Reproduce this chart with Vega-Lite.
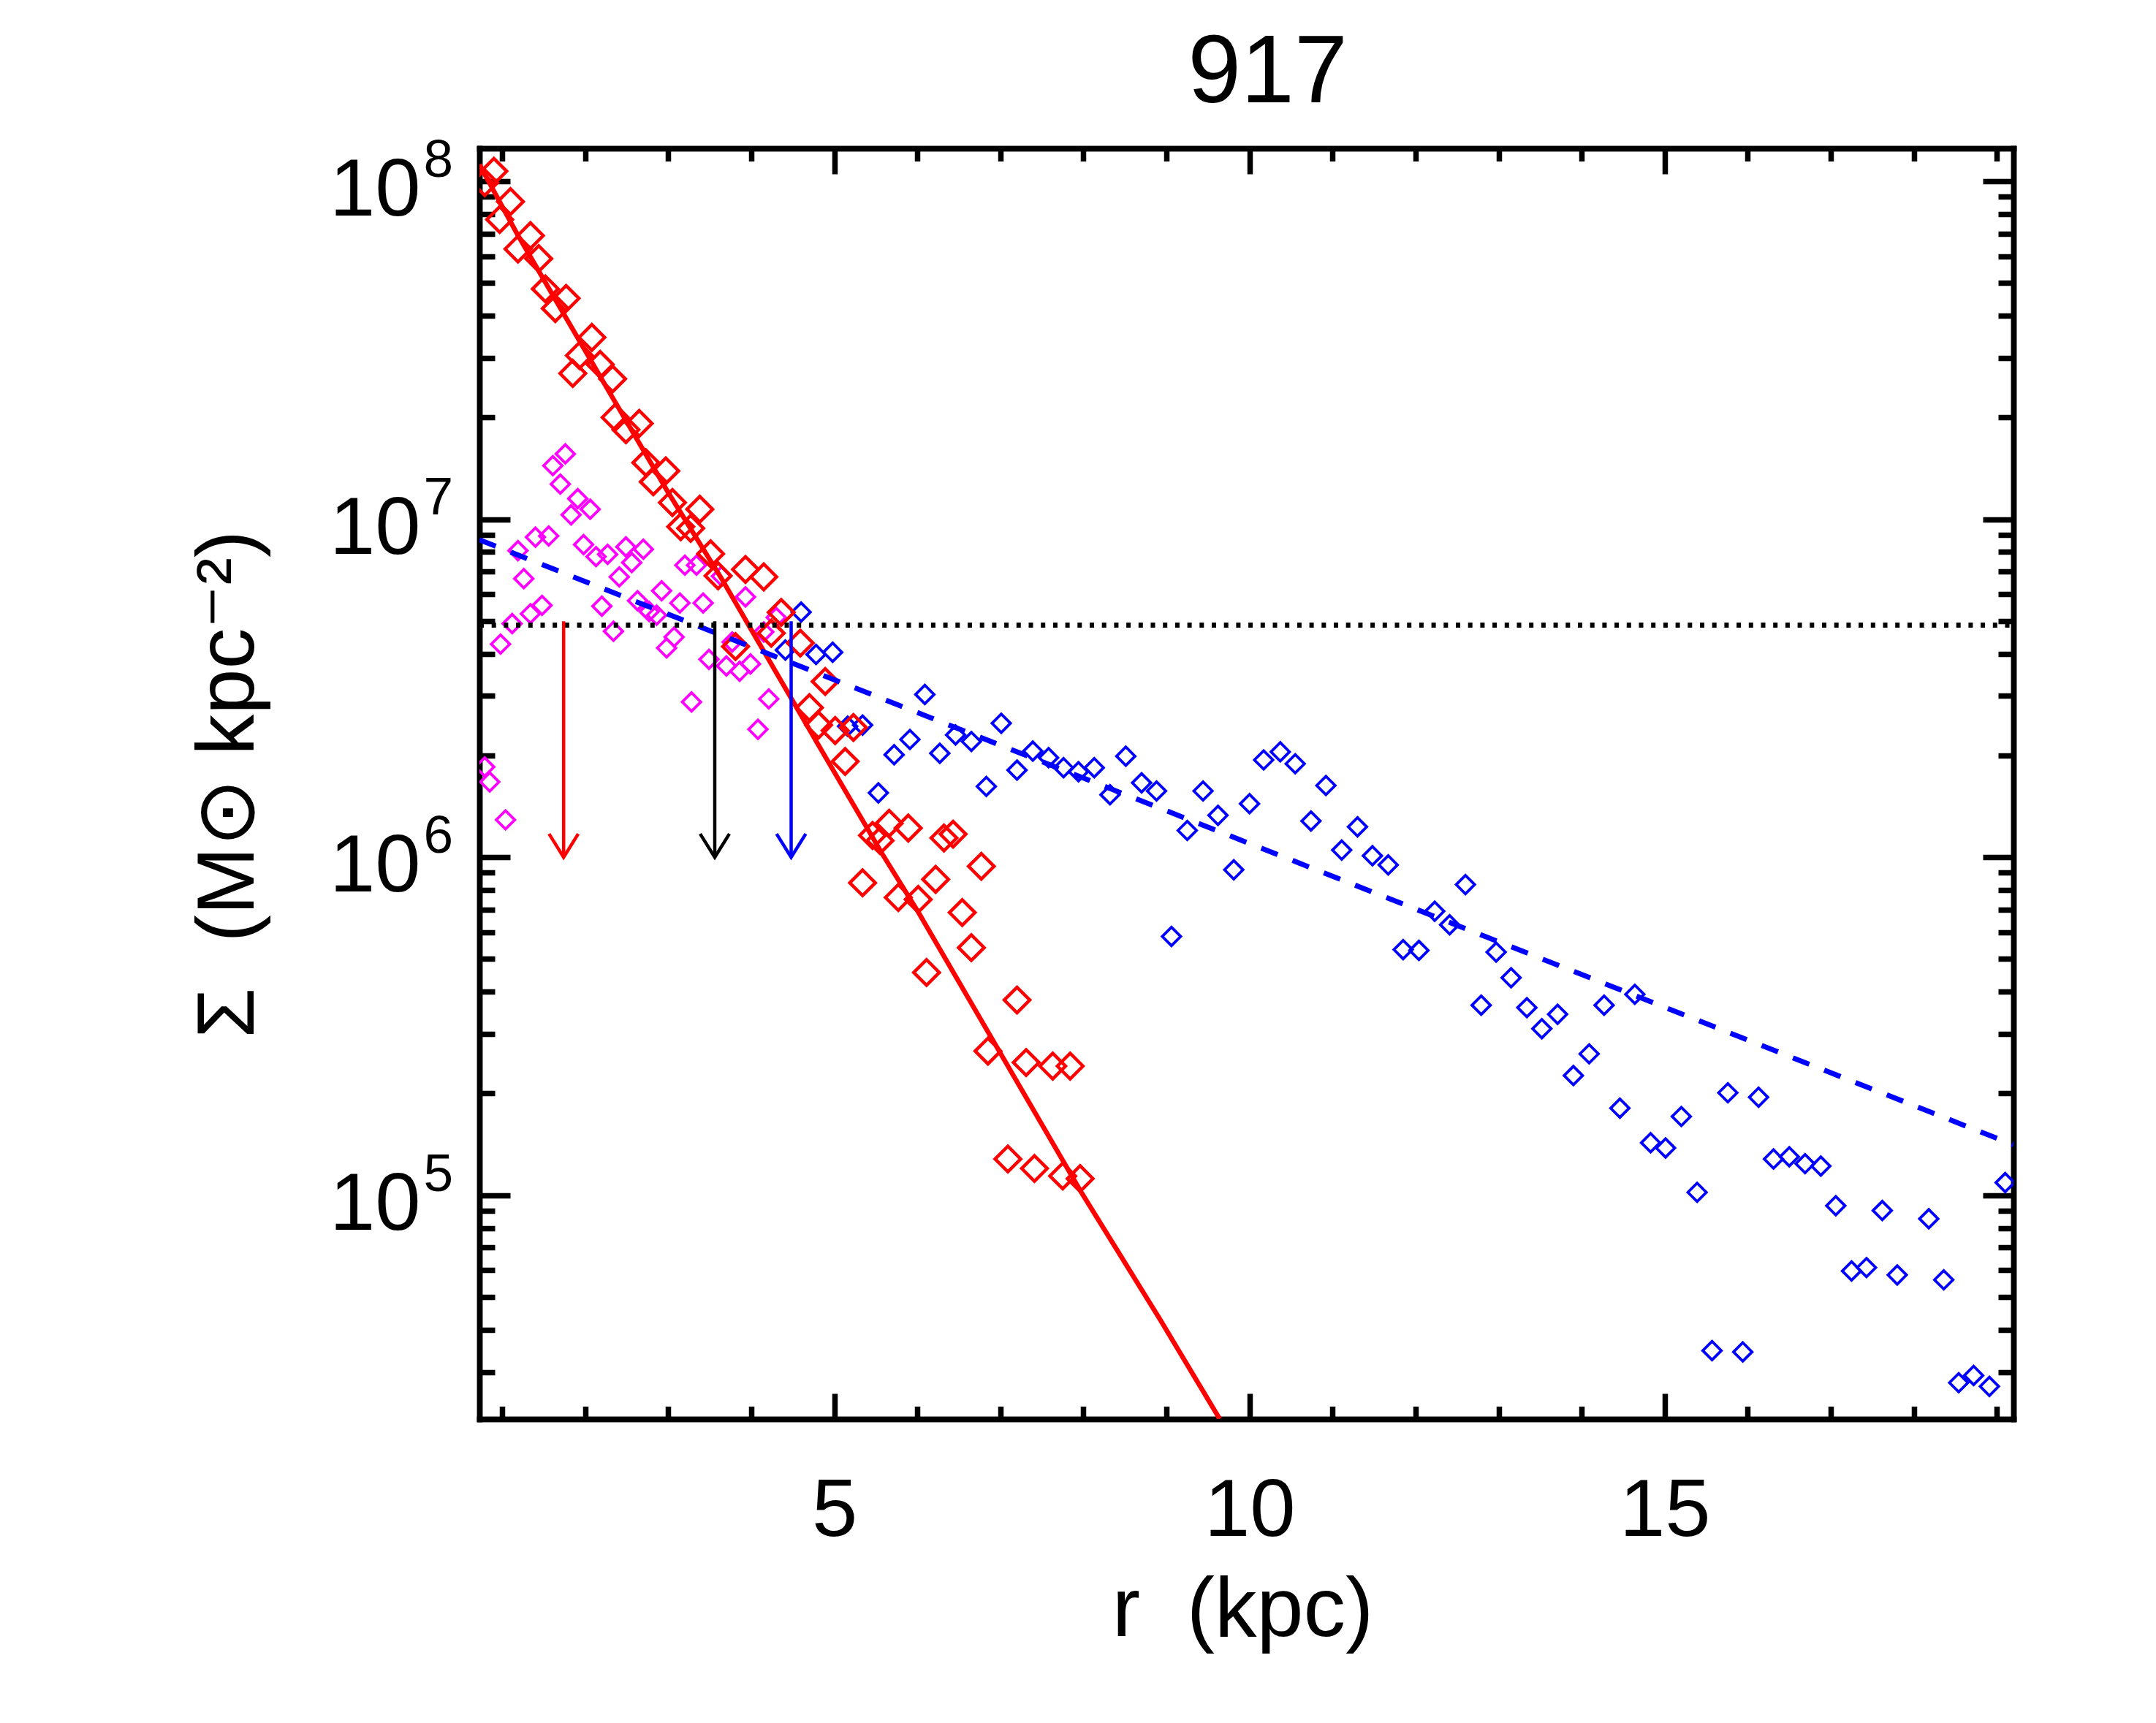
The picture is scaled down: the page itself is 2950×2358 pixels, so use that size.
{
  "$schema": "https://vega.github.io/schema/vega-lite/v6.json",
  "description": "Surface density profile of galaxy 917 with bulge and disk fits",
  "width": 2099,
  "height": 1739,
  "autosize": {"type": "none"},
  "padding": {"left": 656, "top": 203, "right": 195, "bottom": 416},
  "background": "white",
  "title": {
    "text": "917",
    "font": "Liberation Sans",
    "fontSize": 131,
    "fontWeight": "normal",
    "color": "black",
    "anchor": "middle",
    "frame": "group",
    "baseline": "alphabetic",
    "dx": 29,
    "dy": 140,
    "offset": 52
  },
  "datasets": {
    "bulge": [
      {"r": 0.79, "S": 99000000}, {"r": 0.90, "S": 107000000}, {"r": 0.97, "S": 77000000},
      {"r": 1.10, "S": 87000000}, {"r": 1.19, "S": 63000000}, {"r": 1.34, "S": 69000000},
      {"r": 1.44, "S": 59000000}, {"r": 1.52, "S": 48000000}, {"r": 1.64, "S": 42000000},
      {"r": 1.77, "S": 45000000}, {"r": 1.85, "S": 27000000}, {"r": 1.93, "S": 30500000},
      {"r": 2.08, "S": 34500000}, {"r": 2.18, "S": 28700000}, {"r": 2.33, "S": 26000000},
      {"r": 2.36, "S": 20000000}, {"r": 2.49, "S": 18400000}, {"r": 2.65, "S": 19200000},
      {"r": 2.73, "S": 14700000}, {"r": 2.82, "S": 12900000}, {"r": 2.97, "S": 13900000},
      {"r": 3.05, "S": 11200000}, {"r": 3.15, "S": 9500000}, {"r": 3.27, "S": 9400000},
      {"r": 3.38, "S": 10700000}, {"r": 3.51, "S": 7900000}, {"r": 3.60, "S": 6800000},
      {"r": 3.81, "S": 4200000}, {"r": 3.93, "S": 7100000}, {"r": 4.15, "S": 6750000},
      {"r": 4.24, "S": 4600000}, {"r": 4.36, "S": 5300000}, {"r": 4.59, "S": 4300000},
      {"r": 4.70, "S": 2770000}, {"r": 4.81, "S": 2460000}, {"r": 4.89, "S": 3310000},
      {"r": 5.01, "S": 2370000}, {"r": 5.13, "S": 1920000}, {"r": 5.23, "S": 2420000},
      {"r": 5.34, "S": 840000}, {"r": 5.46, "S": 1160000}, {"r": 5.55, "S": 1120000},
      {"r": 5.66, "S": 1260000}, {"r": 5.77, "S": 760000}, {"r": 5.89, "S": 1220000},
      {"r": 6.01, "S": 750000}, {"r": 6.11, "S": 456000}, {"r": 6.22, "S": 860000},
      {"r": 6.32, "S": 1140000}, {"r": 6.43, "S": 1170000}, {"r": 6.54, "S": 686000},
      {"r": 6.65, "S": 540000}, {"r": 6.77, "S": 940000}, {"r": 6.85, "S": 267000},
      {"r": 7.09, "S": 128000}, {"r": 7.20, "S": 378000}, {"r": 7.31, "S": 247000},
      {"r": 7.41, "S": 120000}, {"r": 7.63, "S": 241000}, {"r": 7.75, "S": 114000},
      {"r": 7.84, "S": 241000}, {"r": 7.96, "S": 112000}
    ],
    "inner": [
      {"r": 0.79, "S": 1850000}, {"r": 0.85, "S": 1670000}, {"r": 0.98, "S": 4270000},
      {"r": 1.04, "S": 1290000}, {"r": 1.12, "S": 4910000}, {"r": 1.19, "S": 8070000},
      {"r": 1.26, "S": 6670000}, {"r": 1.34, "S": 5250000}, {"r": 1.40, "S": 8850000},
      {"r": 1.48, "S": 5560000}, {"r": 1.56, "S": 8920000}, {"r": 1.61, "S": 14400000},
      {"r": 1.70, "S": 12700000}, {"r": 1.76, "S": 15600000}, {"r": 1.83, "S": 10300000},
      {"r": 1.91, "S": 11500000}, {"r": 1.98, "S": 8410000}, {"r": 2.06, "S": 10700000},
      {"r": 2.13, "S": 7750000}, {"r": 2.20, "S": 5530000}, {"r": 2.27, "S": 7870000},
      {"r": 2.34, "S": 4660000}, {"r": 2.41, "S": 6750000}, {"r": 2.49, "S": 8280000},
      {"r": 2.56, "S": 7440000}, {"r": 2.63, "S": 5740000}, {"r": 2.70, "S": 8150000},
      {"r": 2.77, "S": 5330000}, {"r": 2.86, "S": 5200000}, {"r": 2.92, "S": 6140000},
      {"r": 2.98, "S": 4160000}, {"r": 3.07, "S": 4480000}, {"r": 3.14, "S": 5650000},
      {"r": 3.20, "S": 7310000}, {"r": 3.28, "S": 2880000}, {"r": 3.34, "S": 7310000},
      {"r": 3.42, "S": 5650000}, {"r": 3.49, "S": 3850000}, {"r": 3.64, "S": 6780000},
      {"r": 3.70, "S": 3680000}, {"r": 3.77, "S": 4330000}, {"r": 3.86, "S": 3550000},
      {"r": 3.93, "S": 5890000}, {"r": 3.99, "S": 3730000}, {"r": 4.08, "S": 2390000},
      {"r": 4.15, "S": 4640000}, {"r": 4.21, "S": 2940000}, {"r": 4.30, "S": 5120000}
    ],
    "disk": [
      {"r": 4.41, "S": 4100000}, {"r": 4.60, "S": 5310000}, {"r": 4.78, "S": 3980000},
      {"r": 4.98, "S": 4040000}, {"r": 5.16, "S": 2440000}, {"r": 5.34, "S": 2460000},
      {"r": 5.53, "S": 1550000}, {"r": 5.72, "S": 2010000}, {"r": 5.91, "S": 2230000},
      {"r": 6.09, "S": 3030000}, {"r": 6.27, "S": 2030000}, {"r": 6.46, "S": 2300000},
      {"r": 6.65, "S": 2200000}, {"r": 6.83, "S": 1620000}, {"r": 7.01, "S": 2490000},
      {"r": 7.20, "S": 1810000}, {"r": 7.39, "S": 2060000}, {"r": 7.58, "S": 1970000},
      {"r": 7.76, "S": 1840000}, {"r": 7.94, "S": 1790000}, {"r": 8.13, "S": 1840000},
      {"r": 8.32, "S": 1530000}, {"r": 8.51, "S": 1990000}, {"r": 8.70, "S": 1660000},
      {"r": 8.88, "S": 1570000}, {"r": 9.06, "S": 583000}, {"r": 9.25, "S": 1200000},
      {"r": 9.44, "S": 1570000}, {"r": 9.62, "S": 1330000}, {"r": 9.81, "S": 918000},
      {"r": 10.00, "S": 1440000}, {"r": 10.17, "S": 1940000}, {"r": 10.37, "S": 2050000},
      {"r": 10.55, "S": 1890000}, {"r": 10.74, "S": 1280000}, {"r": 10.92, "S": 1630000},
      {"r": 11.11, "S": 1050000}, {"r": 11.30, "S": 1230000}, {"r": 11.48, "S": 1010000},
      {"r": 11.67, "S": 949000}, {"r": 11.85, "S": 533000}, {"r": 12.04, "S": 530000},
      {"r": 12.23, "S": 692000}, {"r": 12.41, "S": 631000}, {"r": 12.60, "S": 830000},
      {"r": 12.79, "S": 365000}, {"r": 12.97, "S": 524000}, {"r": 13.15, "S": 440000},
      {"r": 13.34, "S": 359000}, {"r": 13.52, "S": 311000}, {"r": 13.71, "S": 343000},
      {"r": 13.90, "S": 226000}, {"r": 14.09, "S": 262000}, {"r": 14.27, "S": 365000},
      {"r": 14.46, "S": 181000}, {"r": 14.64, "S": 393000}, {"r": 14.83, "S": 143000},
      {"r": 15.01, "S": 138000}, {"r": 15.20, "S": 171000}, {"r": 15.39, "S": 102000},
      {"r": 15.57, "S": 34700}, {"r": 15.76, "S": 201000}, {"r": 15.94, "S": 34400},
      {"r": 16.13, "S": 195000}, {"r": 16.31, "S": 128000}, {"r": 16.50, "S": 130000},
      {"r": 16.69, "S": 124000}, {"r": 16.88, "S": 122000}, {"r": 17.06, "S": 93100},
      {"r": 17.25, "S": 59700}, {"r": 17.43, "S": 61100}, {"r": 17.62, "S": 90100},
      {"r": 17.80, "S": 58100}, {"r": 18.18, "S": 85200}, {"r": 18.36, "S": 56200},
      {"r": 18.54, "S": 27900}, {"r": 18.72, "S": 29300}, {"r": 18.91, "S": 27200},
      {"r": 19.10, "S": 109000}
    ],
    "bulgeFit": [
      {"r": 0.726, "S": 112000000}, {"r": 1.18, "S": 69800000}, {"r": 2.28, "S": 24000000},
      {"r": 2.99, "S": 12100000}, {"r": 3.65, "S": 6620000}, {"r": 4.76, "S": 2250000},
      {"r": 5.58, "S": 1020000}, {"r": 6.02, "S": 682000}, {"r": 7.98, "S": 101500},
      {"r": 8.92, "S": 43000}, {"r": 9.64, "S": 21800}
    ],
    "diskFit": [
      {"r": 0.726, "S": 8690000}, {"r": 19.2, "S": 141000}
    ],
    "level": [
      {"r": 0.726, "S": 4860000}, {"r": 19.2, "S": 4860000}
    ],
    "arrows": [
      {"r": 1.74, "top": 4990000, "bottom": 1000000, "kind": "bulge"},
      {"r": 3.56, "top": 4990000, "bottom": 1000000, "kind": "total"},
      {"r": 4.48, "top": 4990000, "bottom": 1000000, "kind": "disk"}
    ]
  },
  "config": {
    "view": {"stroke": null},
    "axis": {
      "grid": false,
      "domainColor": "black",
      "domainWidth": 7.5,
      "domainCap": "square",
      "tickColor": "black",
      "tickWidth": 7.5,
      "labelColor": "black",
      "titleColor": "black",
      "labelFont": "Liberation Sans",
      "titleFont": "Liberation Sans",
      "titleFontWeight": "normal",
      "labelBound": false,
      "labelFlush": false,
      "labelOverlap": false
    }
  },
  "resolve": {"axis": {"x": "independent", "y": "independent"}},
  "layer": [
    {
      "data": {"name": "inner"},
      "mark": {"type": "point", "shape": "diamond", "filled": false, "size": 640, "strokeWidth": 3.8, "color": "#ff00ff", "opacity": 1, "clip": true},
      "encoding": {
        "x": {
          "field": "r", "type": "quantitative",
          "scale": {"domain": [0.726, 19.2], "nice": false, "zero": false},
          "axis": {"orient": "bottom", "values": [1, 2, 3, 4, 6, 7, 8, 9, 11, 12, 13, 14, 16, 17, 18, 19], "tickSize": -17.5, "labels": false, "title": null}
        },
        "y": {
          "field": "S", "type": "quantitative",
          "scale": {"type": "log", "domain": [21777, 125060000], "nice": false},
          "axis": {"orient": "left", "values": [30000, 40000, 50000, 60000, 70000, 80000, 90000, 200000, 300000, 400000, 500000, 600000, 700000, 800000, 900000, 2000000, 3000000, 4000000, 5000000, 6000000, 7000000, 8000000, 9000000, 20000000, 30000000, 40000000, 50000000, 60000000, 70000000, 80000000, 90000000], "tickSize": -21, "labels": false, "title": null}
        }
      }
    },
    {
      "data": {"name": "disk"},
      "mark": {"type": "point", "shape": "diamond", "filled": false, "size": 640, "strokeWidth": 3.8, "color": "#0000ff", "opacity": 1, "clip": true},
      "encoding": {
        "x": {
          "field": "r", "type": "quantitative",
          "scale": {"domain": [0.726, 19.2], "nice": false, "zero": false},
          "axis": {"orient": "top", "values": [5, 10, 15], "tickSize": -35, "labels": false, "title": null}
        },
        "y": {
          "field": "S", "type": "quantitative",
          "scale": {"type": "log", "domain": [21777, 125060000], "nice": false},
          "axis": {"orient": "right", "values": [100000, 1000000, 10000000, 100000000], "tickSize": -42, "labels": false, "title": null}
        }
      }
    },
    {
      "data": {"name": "bulge"},
      "mark": {"type": "point", "shape": "diamond", "filled": false, "size": 1225, "strokeWidth": 4.5, "color": "#ff0000", "opacity": 1, "clip": true},
      "encoding": {
        "x": {
          "field": "r", "type": "quantitative",
          "scale": {"domain": [0.726, 19.2], "nice": false, "zero": false},
          "axis": {
            "orient": "bottom", "values": [5, 10, 15], "tickSize": -35,
            "labelFontSize": 112, "labelPadding": 194, "labelBaseline": "alphabetic",
            "title": "r\u00a0\u00a0(kpc)", "titleFontSize": 115, "titleX": 1044, "titleY": 296,
            "titleAlign": "center", "titleBaseline": "alphabetic", "titleAngle": 0
          }
        },
        "y": {
          "field": "S", "type": "quantitative",
          "scale": {"type": "log", "domain": [21777, 125060000], "nice": false},
          "axis": {
            "orient": "left", "values": [100000, 1000000, 10000000, 100000000], "tickSize": -42,
            "labelExpr": "'10'", "labelFontSize": 112, "labelAlign": "right", "labelBaseline": "alphabetic",
            "labelPadding": 123, "labelOffset": 46.6,
            "title": "Σ\u00a0\u00a0(M⊙ kpc⁻²)", "titleFontSize": 112, "titleAngle": -90,
            "titleX": -310, "titleY": 870, "titleAlign": "center", "titleBaseline": "alphabetic"
          }
        }
      }
    },
    {
      "data": {"name": "bulgeFit"},
      "mark": {"type": "line", "color": "#ff0000", "strokeWidth": 6.5, "clip": true},
      "encoding": {
        "x": {
          "field": "r", "type": "quantitative",
          "scale": {"domain": [0.726, 19.2], "nice": false, "zero": false},
          "axis": {"orient": "top", "values": [1, 2, 3, 4, 6, 7, 8, 9, 11, 12, 13, 14, 16, 17, 18, 19], "tickSize": -17.5, "labels": false, "title": null}
        },
        "y": {
          "field": "S", "type": "quantitative",
          "scale": {"type": "log", "domain": [21777, 125060000], "nice": false},
          "axis": {"orient": "right", "values": [30000, 40000, 50000, 60000, 70000, 80000, 90000, 200000, 300000, 400000, 500000, 600000, 700000, 800000, 900000, 2000000, 3000000, 4000000, 5000000, 6000000, 7000000, 8000000, 9000000, 20000000, 30000000, 40000000, 50000000, 60000000, 70000000, 80000000, 90000000], "tickSize": -21, "labels": false, "title": null}
        }
      }
    },
    {
      "data": {"name": "diskFit"},
      "mark": {"type": "line", "color": "#0000ff", "strokeWidth": 7, "strokeDash": [24, 22], "clip": true},
      "encoding": {
        "x": {
          "field": "r", "type": "quantitative",
          "scale": {"domain": [0.726, 19.2], "nice": false, "zero": false},
          "axis": null
        },
        "y": {
          "field": "S", "type": "quantitative",
          "scale": {"type": "log", "domain": [21777, 125060000], "nice": false},
          "axis": {
            "orient": "left", "values": [100000, 1000000, 10000000, 100000000],
            "domain": false, "ticks": false, "tickSize": 0,
            "labelExpr": "'' + round(log(datum.value) / LN10)", "labelFontSize": 73,
            "labelAlign": "left", "labelBaseline": "alphabetic", "labelPadding": 77, "labelOffset": -6.7,
            "title": null
          }
        }
      }
    },
    {
      "data": {"name": "level"},
      "mark": {"type": "line", "color": "black", "strokeWidth": 7, "strokeDash": [6, 10.7], "clip": true},
      "encoding": {
        "x": {"field": "r", "type": "quantitative", "scale": {"domain": [0.726, 19.2], "nice": false, "zero": false}, "axis": null},
        "y": {"field": "S", "type": "quantitative", "scale": {"type": "log", "domain": [21777, 125060000], "nice": false}, "axis": null}
      }
    },
    {
      "data": {"name": "arrows"},
      "mark": {"type": "rule", "strokeWidth": 4.5},
      "encoding": {
        "x": {"field": "r", "type": "quantitative", "scale": {"domain": [0.726, 19.2], "nice": false, "zero": false}, "axis": null},
        "y": {"field": "top", "type": "quantitative", "scale": {"type": "log", "domain": [21777, 125060000], "nice": false}, "axis": null},
        "y2": {"field": "bottom"},
        "color": {"field": "kind", "type": "nominal", "scale": {"domain": ["bulge", "total", "disk"], "range": ["#ff0000", "#000000", "#0000ff"]}, "legend": null}
      }
    },
    {
      "data": {"name": "arrows"},
      "mark": {"type": "point", "shape": "M-1,-1.6L0,0L1,-1.6", "filled": false, "size": 1600, "strokeWidth": 4.5, "opacity": 1},
      "encoding": {
        "x": {"field": "r", "type": "quantitative", "scale": {"domain": [0.726, 19.2], "nice": false, "zero": false}, "axis": null},
        "y": {"field": "bottom", "type": "quantitative", "scale": {"type": "log", "domain": [21777, 125060000], "nice": false}, "axis": null},
        "color": {"field": "kind", "type": "nominal", "scale": {"domain": ["bulge", "total", "disk"], "range": ["#ff0000", "#000000", "#0000ff"]}, "legend": null}
      }
    }
  ]
}
